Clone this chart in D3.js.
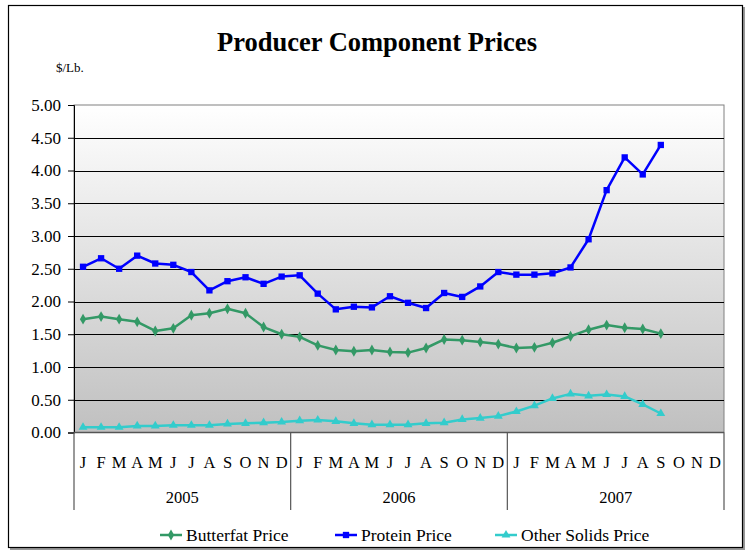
<!DOCTYPE html>
<html lang="en">
  <head>
    <meta charset="utf-8">
<style>
body { margin: 0; background: #fff; }
svg text { font-family: "Liberation Serif", "Times New Roman", serif; fill: #000; }
</style>
</head>
<body>
<script src="https://d3js.org/d3.v7.min.js"></script>
<svg id="chart" width="751" height="550"></svg>
<script>
var years = ["2005", "2006", "2007"];
var months = ["J", "F", "M", "A", "M", "J", "J", "A", "S", "O", "N", "D"];
var yTicks = [0, 0.5, 1, 1.5, 2, 2.5, 3, 3.5, 4, 4.5, 5];

// monthly prices, Jan 2005 .. Sep 2007
var butterfat = [1.73, 1.77, 1.73, 1.69, 1.55, 1.59, 1.79, 1.82, 1.89, 1.82, 1.61, 1.50,
                 1.46, 1.33, 1.26, 1.24, 1.26, 1.23, 1.22, 1.29, 1.42, 1.41, 1.38, 1.35,
                 1.29, 1.30, 1.37, 1.47, 1.57, 1.64, 1.60, 1.58, 1.51];
var protein = [2.53, 2.66, 2.50, 2.70, 2.58, 2.56, 2.45, 2.17, 2.31, 2.37, 2.27, 2.38,
               2.40, 2.12, 1.88, 1.92, 1.91, 2.08, 1.98, 1.90, 2.13, 2.07, 2.23, 2.45,
               2.41, 2.41, 2.43, 2.52, 2.95, 3.70, 4.20, 3.94, 4.39];
var otherSolids = [0.08, 0.08, 0.08, 0.10, 0.10, 0.11, 0.11, 0.11, 0.13, 0.14, 0.15, 0.16,
                   0.18, 0.19, 0.17, 0.14, 0.12, 0.12, 0.12, 0.14, 0.15, 0.20, 0.22, 0.25,
                   0.32, 0.41, 0.52, 0.59, 0.56, 0.58, 0.55, 0.43, 0.29];

var series = [
  {name: "Butterfat Price", values: butterfat, color: "#339966", shape: d3.symbolDiamond, size: 34},
  {name: "Protein Price", values: protein, color: "#0000ff", shape: d3.symbolSquare, size: 40},
  {name: "Other Solids Price", values: otherSolids, color: "#33cccc", shape: d3.symbolTriangle, size: 34}
];

var svg = d3.select("#chart");
var plotLeft = 74, plotRight = 724, plotTop = 105, plotBottom = 432.5;

var slots = d3.range(years.length * months.length);
var x = d3.scaleBand().domain(slots).range([plotLeft, plotRight]);
var y = d3.scaleLinear().domain([0, 5]).range([plotBottom, plotTop]);

// outer frame with shadow
svg.append("rect").attr("x", 10).attr("y", 7).attr("width", 735).attr("height", 543)
    .attr("fill", "#999");
svg.append("rect").attr("x", 8.5).attr("y", 5.5).attr("width", 734).attr("height", 542)
    .attr("fill", "#fff").attr("stroke", "#000").attr("stroke-width", 1.2);

// plot background gradient
var grad = svg.append("defs").append("linearGradient")
    .attr("id", "bg").attr("x1", 0).attr("y1", 0).attr("x2", 0).attr("y2", 1);
grad.append("stop").attr("offset", 0).attr("stop-color", "#ffffff");
grad.append("stop").attr("offset", 1).attr("stop-color", "#c0c0c0");
svg.append("rect").attr("x", plotLeft).attr("y", plotTop)
    .attr("width", plotRight - plotLeft).attr("height", plotBottom - plotTop)
    .attr("fill", "url(#bg)").attr("stroke", "#808080").attr("stroke-width", 1);

// grid
svg.append("g").selectAll("line").data(yTicks.filter(function(d) { return d > 0 && d < 5; }))
  .join("line")
    .attr("x1", plotLeft).attr("x2", plotRight)
    .attr("y1", function(d) { return Math.round(y(d)) + 0.5; })
    .attr("y2", function(d) { return Math.round(y(d)) + 0.5; })
    .attr("stroke", "#000").attr("stroke-width", 1);

// y axis
var yAxis = svg.append("g").attr("transform", "translate(" + plotLeft + ",0)")
    .call(d3.axisLeft(y).tickValues(yTicks).tickFormat(d3.format(".2f")).tickSize(6).tickPadding(7));
yAxis.select(".domain").attr("stroke", "#000");
yAxis.selectAll("text").style("font-size", "17px").attr("font-family", "Liberation Serif");
yAxis.selectAll("line").attr("stroke", "#000");

// bottom axis line
svg.append("line").attr("x1", plotLeft).attr("x2", plotRight).attr("y1", plotBottom).attr("y2", plotBottom)
    .attr("stroke", "#555").attr("stroke-width", 1.5);

// month labels
svg.append("g").selectAll("text").data(slots).join("text")
    .attr("x", function(d) { return x(d) + x.bandwidth() / 2; })
    .attr("y", 468)
    .attr("text-anchor", "middle")
    .style("font-size", "16.5px")
    .text(function(d) { return months[d % 12]; });

// year separators and labels
var yearW = (plotRight - plotLeft) / years.length;
svg.append("g").selectAll("line").data(d3.range(years.length + 1)).join("line")
    .attr("x1", function(d) { return plotLeft + d * yearW; })
    .attr("x2", function(d) { return plotLeft + d * yearW; })
    .attr("y1", plotBottom).attr("y2", 510)
    .attr("stroke", "#555").attr("stroke-width", 1.2);
svg.append("g").selectAll("text").data(years).join("text")
    .attr("x", function(d, i) { return plotLeft + (i + 0.5) * yearW; })
    .attr("y", 503)
    .attr("text-anchor", "middle")
    .style("font-size", "16.5px")
    .text(function(d) { return d; });

// lines and markers
var line = d3.line()
    .x(function(d, i) { return x(i) + x.bandwidth() / 2; })
    .y(function(d) { return y(d); });

series.forEach(function(s) {
  svg.append("path").datum(s.values)
      .attr("d", line).attr("fill", "none")
      .attr("stroke", s.color).attr("stroke-width", 2.5).attr("stroke-linejoin", "round");
  svg.append("g").selectAll("path").data(s.values).join("path")
      .attr("transform", function(d, i) { return "translate(" + (x(i) + x.bandwidth() / 2) + "," + y(d) + ")"; })
      .attr("d", d3.symbol().type(s.shape).size(s.size))
      .attr("fill", s.color);
});

// title
svg.append("text").attr("x", 377).attr("y", 51).attr("text-anchor", "middle")
    .style("font-size", "26.5px").style("font-weight", "bold")
    .text("Producer Component Prices");
svg.append("text").attr("x", 56).attr("y", 72).style("font-size", "13px").text("$/Lb.");

// legend
var legendX = [160, 335, 495];
var legend = svg.append("g").selectAll("g").data(series).join("g")
    .attr("transform", function(d, i) { return "translate(" + legendX[i] + ",535)"; });
legend.append("line").attr("x1", 0).attr("x2", 22).attr("stroke", function(d) { return d.color; })
    .attr("stroke-width", 2.5);
legend.append("path").attr("transform", "translate(11,0)")
    .attr("d", function(d) { return d3.symbol().type(d.shape).size(d.size)(); })
    .attr("fill", function(d) { return d.color; });
legend.append("text").attr("x", 26).attr("y", 6).style("font-size", "17.5px")
    .text(function(d) { return d.name; });
</script>
</body>
</html>
